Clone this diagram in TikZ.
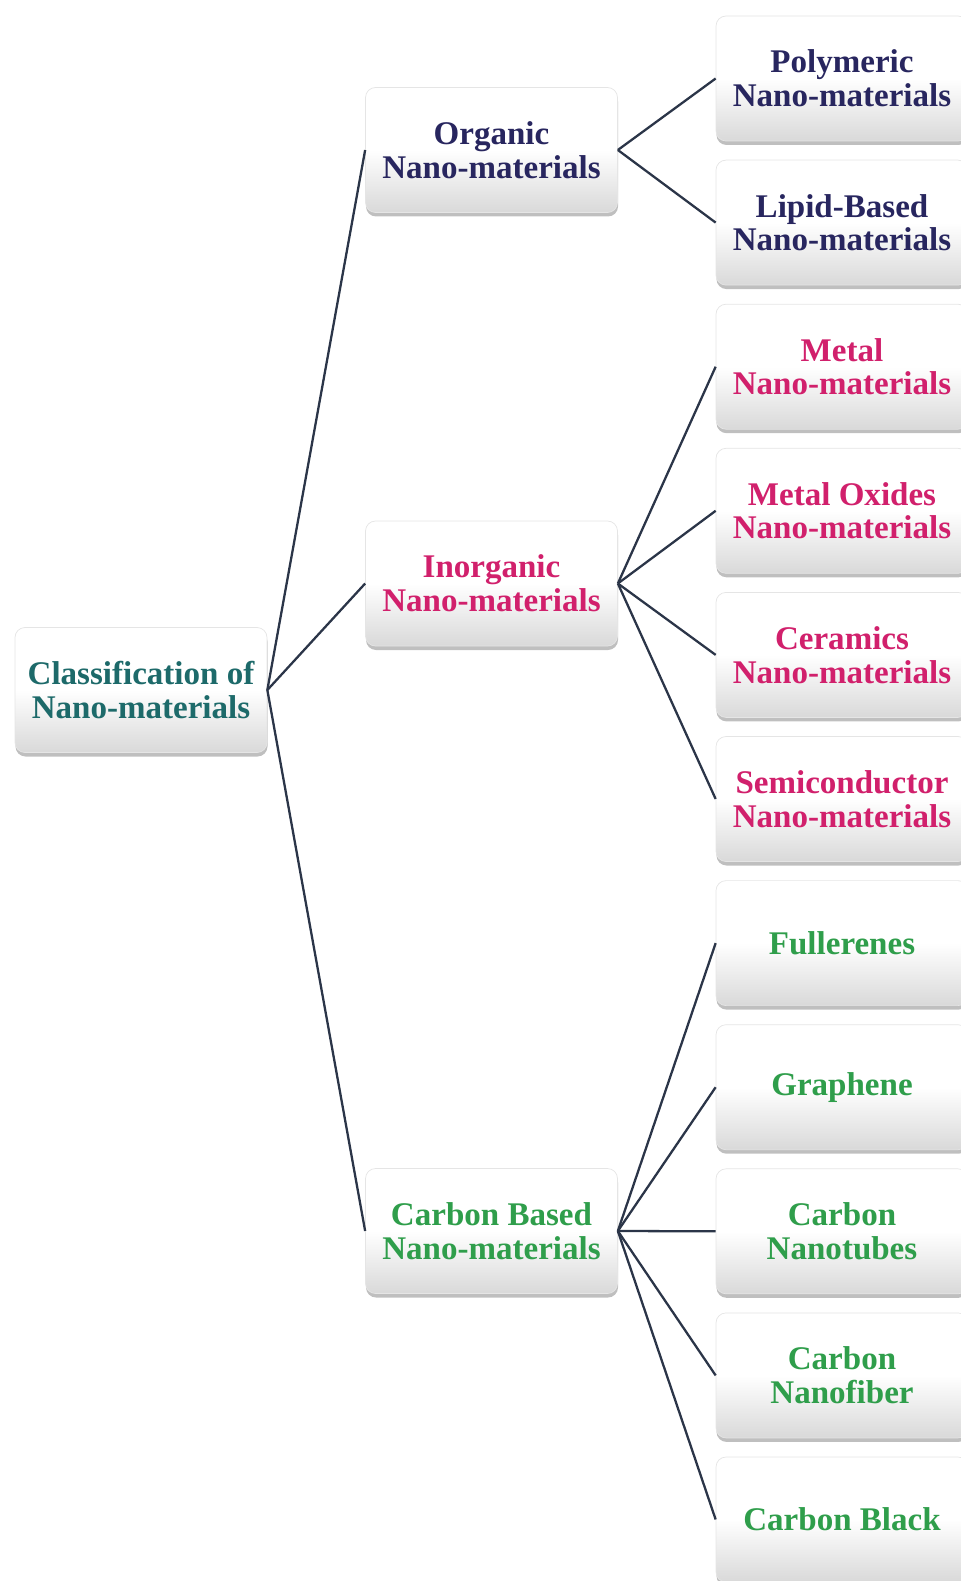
\documentclass[tikz,border=0pt]{standalone}
\usepackage{fontspec}
\setmainfont{Liberation Serif}
\usepackage{tikz}
\usetikzlibrary{shadows}

\definecolor{rootteal}{HTML}{1D6A6A}
\definecolor{orgblue}{HTML}{28265F}
\definecolor{inorgpink}{HTML}{D1206C}
\definecolor{carbgreen}{HTML}{2F9E4B}
\definecolor{linkgray}{HTML}{2B3548}

\tikzset{
  classbox/.style={rounded corners=0.2cm, draw=black!10, line width=0.4pt,
    top color=white, bottom color=black!15, middle color=white,
    drop shadow={shadow xshift=0.01cm, shadow yshift=-0.08cm, opacity=0.5},
    minimum width=5.04cm, minimum height=2.50cm, align=center,
    font=\bfseries\fontsize{18.8}{19.2}\selectfont},
  link/.style={draw=linkgray, line width=1.3pt}
}

\begin{document}
\begin{tikzpicture}

\useasboundingbox (0,0) rectangle (19.2,-31.62);

% main box
\node[classbox, text=rootteal] (cls) at (2.82,-13.80) {Classification of\\Nano-materials};

% second column
\node[classbox, text=orgblue] (org) at (9.83,-3.00) {Organic\\Nano-materials};
\node[classbox, text=inorgpink] (inorg) at (9.83,-11.67) {Inorganic\\Nano-materials};
\node[classbox, text=carbgreen] (carb) at (9.83,-24.62) {Carbon Based\\Nano-materials};

% third column
\node[classbox, text=orgblue] (poly) at (16.84,-1.57) {Polymeric\\Nano-materials};
\node[classbox, text=orgblue] (lipid) at (16.84,-4.452) {Lipid-Based\\Nano-materials};

\node[classbox, text=inorgpink] (metal) at (16.84,-7.334) {Metal\\Nano-materials};
\node[classbox, text=inorgpink] (oxide) at (16.84,-10.216) {Metal Oxides\\Nano-materials};
\node[classbox, text=inorgpink] (ceram) at (16.84,-13.098) {Ceramics\\Nano-materials};
\node[classbox, text=inorgpink] (semi) at (16.84,-15.98) {Semiconductor\\Nano-materials};

\node[classbox, text=carbgreen] (fuller) at (16.84,-18.862) {Fullerenes};
\node[classbox, text=carbgreen] (graph) at (16.84,-21.744) {Graphene};
\node[classbox, text=carbgreen] (tubes) at (16.84,-24.626) {Carbon\\Nanotubes};
\node[classbox, text=carbgreen] (fiber) at (16.84,-27.508) {Carbon\\Nanofiber};
\node[classbox, text=carbgreen] (black) at (16.84,-30.39) {Carbon Black};

% links
\draw[link] (cls.east) -- (org.west);
\draw[link] (cls.east) -- (inorg.west);
\draw[link] (cls.east) -- (carb.west);

\draw[link] (org.east) -- (poly.west);
\draw[link] (org.east) -- (lipid.west);

\draw[link] (inorg.east) -- (metal.west);
\draw[link] (inorg.east) -- (oxide.west);
\draw[link] (inorg.east) -- (ceram.west);
\draw[link] (inorg.east) -- (semi.west);

\draw[link] (carb.east) -- (fuller.west);
\draw[link] (carb.east) -- (graph.west);
\draw[link] (carb.east) -- (tubes.west);
\draw[link] (carb.east) -- (fiber.west);
\draw[link] (carb.east) -- (black.west);

\end{tikzpicture}
\end{document}
